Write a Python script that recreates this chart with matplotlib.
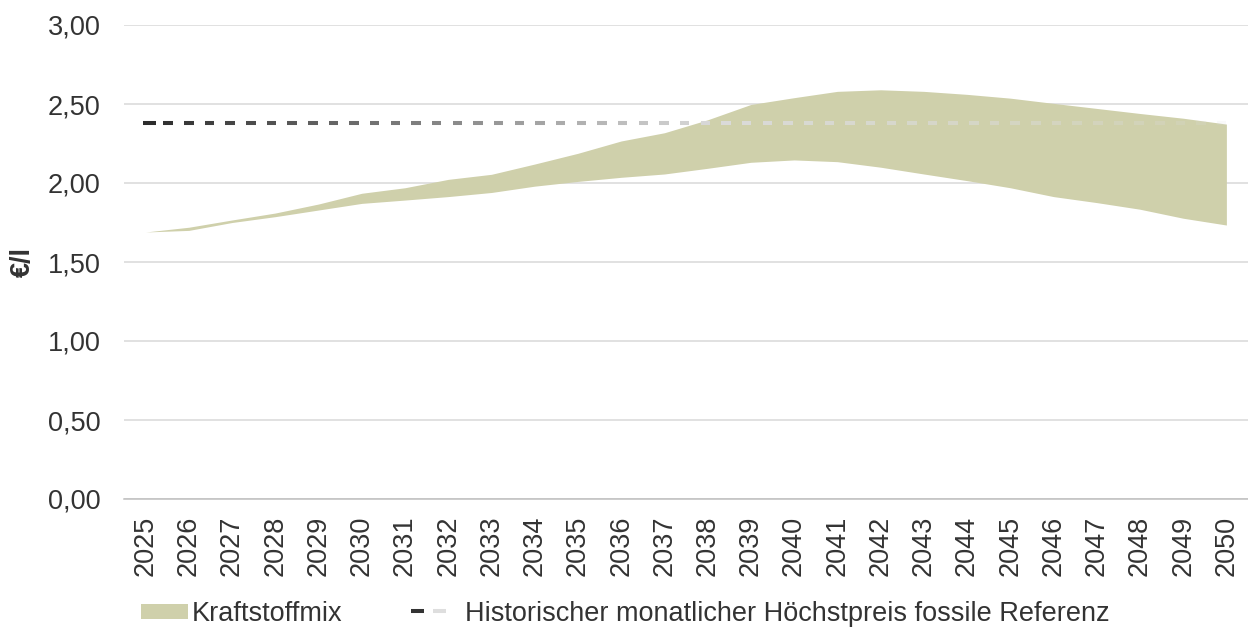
import numpy as np
import matplotlib
matplotlib.use("Agg")
import matplotlib.pyplot as plt
from matplotlib.collections import LineCollection
from matplotlib.legend_handler import HandlerBase
from matplotlib.lines import Line2D
from matplotlib.patches import Rectangle

plt.rcParams['font.family'] = ['Liberation Sans', 'DejaVu Sans']

# ---------------- data ----------------
years = list(range(2025, 2051))
mix_low = [1.69, 1.70, 1.75, 1.787, 1.829, 1.871, 1.892, 1.914, 1.94, 1.98,
           2.01, 2.036, 2.057, 2.093, 2.131, 2.146, 2.135, 2.10, 2.057, 2.015,
           1.97, 1.914, 1.876, 1.834, 1.777, 1.734]
mix_high = [1.69, 1.72, 1.766, 1.81, 1.867, 1.935, 1.97, 2.023, 2.055, 2.12,
            2.188, 2.266, 2.318, 2.40, 2.497, 2.54, 2.58, 2.59, 2.58, 2.561,
            2.537, 2.504, 2.472, 2.44, 2.41, 2.373]
ref_price = 2.38
y_ticks = [0.0, 0.5, 1.0, 1.5, 2.0, 2.5, 3.0]
label_mix = "Kraftstoffmix"
label_ref = "Historischer monatlicher Höchstpreis fossile Referenz"
y_label = "€/l"

# ---------------- style ----------------
FS = 19.5
TXT = '#333333'
BAND = '#cfd0ab'

fig = plt.figure(figsize=(12.48, 6.27), dpi=100)
W, H = 1248, 627
ax = fig.add_axes([124 / W, 1 - 499 / H, 1 - 124 / W, (499 - 25) / H])

ax.set_xlim(years[0] - 0.5, years[-1] + 0.5)
ax.set_ylim(y_ticks[0], y_ticks[-1])

ax.set_axisbelow(True)
ax.grid(axis='y', color='#d9d9d9', lw=1.1)
ax.grid(axis='x', visible=False)
for s in ['top', 'right', 'left']:
    ax.spines[s].set_visible(False)
ax.spines['bottom'].set_color('#bfbfbf')
ax.spines['bottom'].set_linewidth(1.1)

ax.set_yticks(y_ticks)
ax.set_yticklabels([f"{v:.2f}".replace('.', ',') for v in y_ticks],
                   fontsize=FS, color=TXT)
ax.set_xticks(years)
ax.set_xticklabels([str(y) for y in years], rotation=90, fontsize=FS, color=TXT)
ax.tick_params(axis='y', length=0, pad=17)
ax.tick_params(axis='x', length=0, pad=12)

ax.set_ylabel(y_label, fontsize=FS, fontweight='bold', color=TXT)
ax.yaxis.set_label_coords((36 - 124) / (W - 124), 0.5)

# band
ax.fill_between(years, mix_low, mix_high, color=BAND, lw=0, zorder=2)

# gradient dashed reference line
period = 0.478
dash = 0.222
starts = np.arange(years[0] - 0.07, years[-1], period)
segs, cols = [], []
for i, s in enumerate(starts):
    d = dash + (0.08 if i == 0 else 0.0)
    e = min(s + d, years[-1])
    xm = 0.5 * (s + e)
    g = min(0.17 + 0.052 * (xm - years[0]), 0.86)
    a = 1.0 if xm < 2038 else max(1.0 - (xm - 2038) / 12 * 0.85, 0.15)
    segs.append([(s, ref_price), (e, ref_price)])
    cols.append((g, g, g, a))
lc = LineCollection(segs, colors=cols, linewidths=2.9, capstyle='butt', zorder=3)
ax.add_collection(lc)


# ---------------- legend ----------------
class GradDashHandler(HandlerBase):
    def create_artists(self, legend, orig_handle, xdescent, ydescent,
                       width, height, fontsize, trans):
        y = height / 2 - ydescent
        arts = []
        for x0, x1, c in [(-0.07, 0.21, '#333333'), (0.41, 0.68, '#dedede')]:
            l = Line2D([x0 * width - xdescent, x1 * width - xdescent], [y, y],
                       color=c, lw=2.9, solid_capstyle='butt', transform=trans)
            arts.append(l)
        return arts


class BoxHandler(HandlerBase):
    def create_artists(self, legend, orig_handle, xdescent, ydescent,
                       width, height, fontsize, trans):
        r = Rectangle((-xdescent, -ydescent), width, height,
                      facecolor=BAND, edgecolor='none', transform=trans)
        return [r]


h_mix = Rectangle((0, 0), 1, 1, color=BAND)
h_ref = Line2D([], [], color='#333333')
fig.legend([h_mix, h_ref], [label_mix, label_ref],
           handler_map={Rectangle: BoxHandler(), Line2D: GradDashHandler()},
           loc='center left', bbox_to_anchor=(141 / W, 1 - 614 / H),
           ncol=2, frameon=False, fontsize=FS, labelcolor=TXT,
           handlelength=1.74, handleheight=0.52, handletextpad=0.15,
           columnspacing=2.63, borderpad=0, borderaxespad=0)

fig.savefig('out.png', dpi=100)
